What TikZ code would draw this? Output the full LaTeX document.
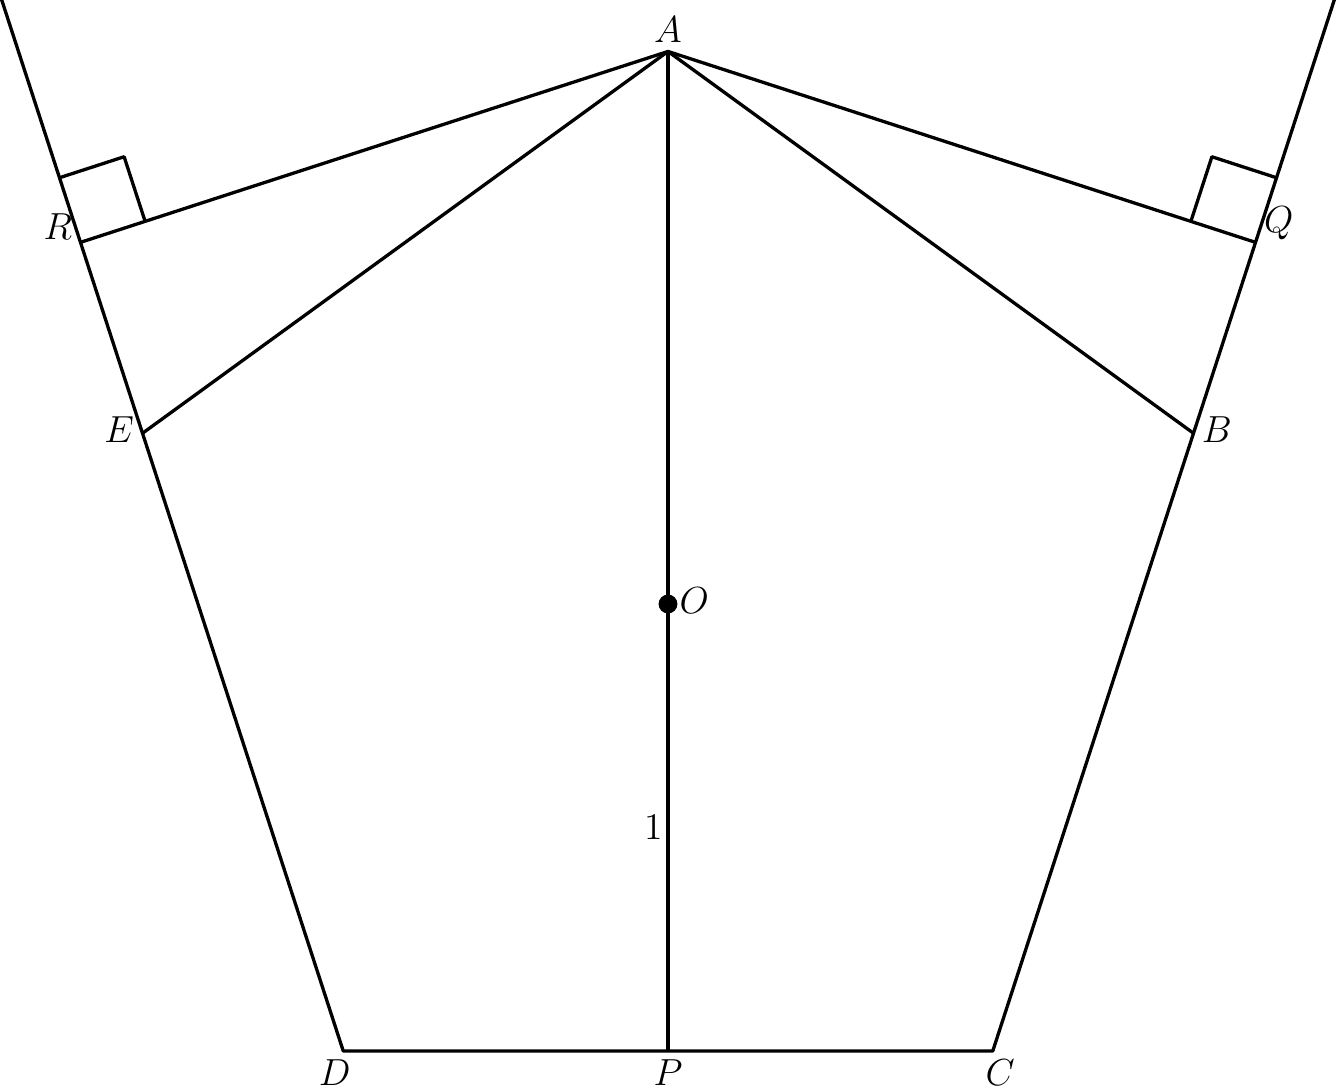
\documentclass[tikz,border=0pt]{standalone}
\usetikzlibrary{calc}
\begin{document}
\begin{tikzpicture}[x=5cm,y=5cm,
  geo/.style={line width=1.05pt, line join=round},
  lbl/.style={inner sep=2.5pt, font=\large}]
\useasboundingbox (-1.4944,-1.0872) rectangle (1.4966,1.3512);
\def\rr{1.23607}
\coordinate (O) at (0,0);
\coordinate (A) at (90:\rr);
\coordinate (B) at (18:\rr);
\coordinate (C) at (-54:\rr);
\coordinate (D) at (-126:\rr);
\coordinate (E) at (162:\rr);
\coordinate (P) at ($(D)!0.5!(C)$);
\coordinate (Lt) at ($(D)!1.72!(E)$);
\coordinate (Rt) at ($(C)!1.72!(B)$);
\coordinate (R) at ($(D)!(A)!(E)$);
\coordinate (Q) at ($(C)!(A)!(B)$);
% right-angle marks
\coordinate (R1) at ($(R)!0.76cm!(A)$);
\coordinate (R2) at ($(R)!0.76cm!(Lt)$);
\coordinate (Q1) at ($(Q)!0.76cm!(A)$);
\coordinate (Q2) at ($(Q)!0.76cm!(Rt)$);
\draw[geo] (R1) -- ($(R1)+(R2)-(R)$) -- (R2);
\draw[geo] (Q1) -- ($(Q1)+(Q2)-(Q)$) -- (Q2);
% main lines
\draw[geo] (Lt) -- (D) -- (C) -- (Rt);
\draw[geo] (R) -- (A) -- (Q);
\draw[geo] (E) -- (A) -- (B);
\draw[geo] (A) -- (P);
\fill (O) circle (3pt);
% labels
\node[lbl, above] (lA) at (A) {$A$};
\node[lbl, left, yshift=5pt] (lR) at (R) {$R$};
\node[lbl, left, yshift=1pt] (lE) at (E) {$E$};
\node[lbl, right, yshift=1pt] (lB) at (B) {$B$};
\node[lbl, right, yshift=6pt] (lQ) at (Q) {$Q$};
\node[lbl, right, xshift=1pt, yshift=1pt] (lO) at (O) {$O$};
\node[lbl, below left, xshift=5pt] (lD) at (D) {$D$};
\node[lbl, below] (lP) at (P) {$P$};
\node[lbl, below right, xshift=-5pt] (lC) at (C) {$C$};
\node[lbl, left, xshift=1pt] (l1) at ($(O)!0.5!(P)$) {$1$};
\end{tikzpicture}
\end{document}
